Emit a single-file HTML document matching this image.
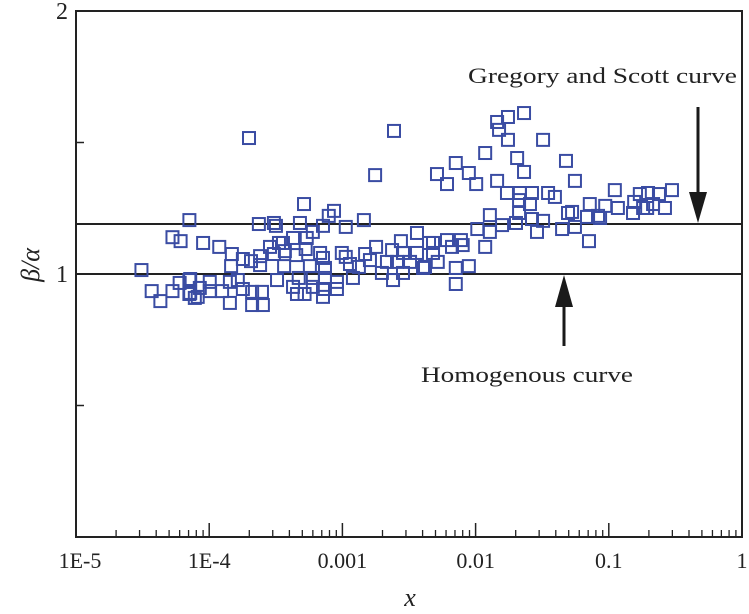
<!DOCTYPE html>
<html><head><meta charset="utf-8"><style>
html,body{margin:0;padding:0;background:#fff;}
svg{display:block;}
text{font-family:"Liberation Serif",serif;fill:#222;}
</style></head><body>
<svg id="chart" width="749" height="614" viewBox="0 0 749 614" xmlns="http://www.w3.org/2000/svg">
<g id="axes"></g>
<g id="marks"></g>
<g id="notes"></g>
</svg>
<script>
const xTickValues = [1e-5, 1e-4, 1e-3, 1e-2, 1e-1, 1];
const xTickLabels = ["1E-5", "1E-4", "0.001", "0.01", "0.1", "1"];
const yTickValues = [1, 2];
const yTickLabels = ["1", "2"];
const yMinorValues = [0.5, 1.5];
const gregoryValue = [1.19];
const homogenousValue = [1.0];
const xVals = [
5.3e-5,6.1e-5,3.1e-5,3.7e-5,4.3e-5,5.3e-5,6.0e-5,7.1e-5,7.1e-5,7.8e-5,
7.1e-5,9.0e-5,1.19e-4,1.48e-4,1.79e-4,2.06e-4,2.41e-4,2.41e-4,1.46e-4,2.36e-4,
3.06e-4,3.17e-4,2.86e-4,3.06e-4,3.34e-4,7.2e-5,7.2e-5,8.2e-5,8.5e-5,1.01e-4,
1.01e-4,1.25e-4,1.43e-4,1.43e-4,1.64e-4,1.79e-4,2.10e-4,2.49e-4,2.10e-4,2.53e-4,
3.23e-4,5.15e-4,8.65e-4,7.9e-4,1.45e-3,4.8e-4,7.15e-4,1.06e-3,6.0e-4,4.26e-4,
5.4e-4,3.58e-4,5.3e-4,3.7e-4,4.5e-4,6.8e-4,7.15e-4,9.9e-4,1.06e-3,1.48e-3,
1.79e-3,2.36e-3,2.75e-3,2.85e-3,3.63e-3,3.63e-3,4.47e-3,3.65e-4,5.7e-4,7.4e-4,
1.14e-3,1.33e-3,1.61e-3,2.16e-3,2.57e-3,3.22e-3,4.03e-3,4.7e-4,6.0e-4,7.4e-4,
9.1e-4,1.20e-3,1.98e-3,2.40e-3,2.85e-3,4.26e-4,6.0e-4,7.15e-4,9.1e-4,4.56e-4,
5.2e-4,7.15e-4,1.72e-2,2.15e-2,2.65e-2,3.50e-2,3.94e-2,2.12e-2,2.56e-2,1.28e-2,
2.12e-2,2.65e-2,3.21e-2,4.94e-2,2.01e-2,1.58e-2,1.28e-2,1.03e-2,2.89e-2,4.46e-2,
5.57e-2,4.79e-3,6.1e-3,6.65e-3,7.76e-3,8.0e-3,1.18e-2,4.79e-3,5.2e-3,4.17e-3,
7.1e-3,8.9e-3,7.1e-3,2.31e-2,1.75e-2,1.45e-2,1.50e-2,1.75e-2,3.21e-2,1.18e-2,
2.05e-2,2.31e-2,4.77e-2,5.57e-2,7.1e-3,5.13e-3,6.1e-3,8.9e-3,1.01e-2,1.45e-2,
0.111,7.2e-2,9.4e-2,0.117,0.155,0.171,0.197,0.238,0.298,0.215,
0.194,0.264,0.152,6.86e-2,8.3e-2,5.3e-2,7.1e-2,8.6e-2,0.181,1.99e-4,
2.44e-3,1.76e-3
];
const yVals = [
1.14,1.125,1.015,0.935,0.897,0.935,0.966,0.977,0.924,0.909,
1.205,1.118,1.103,1.076,1.057,1.049,1.068,1.034,1.030,1.190,
1.194,1.183,1.103,1.076,1.118,0.981,0.928,0.913,0.947,0.970,
0.935,0.935,0.970,0.890,0.977,0.943,0.932,0.932,0.882,0.882,
0.977,1.266,1.240,1.221,1.205,1.194,1.183,1.179,1.160,1.137,
1.137,1.118,1.095,1.087,1.072,1.080,1.061,1.080,1.065,1.076,
1.103,1.091,1.125,1.080,1.156,1.080,1.118,1.030,1.030,1.023,
1.038,1.027,1.053,1.046,1.046,1.046,1.023,0.985,0.985,0.985,
0.970,0.985,1.004,0.977,1.004,0.951,0.951,0.943,0.943,0.924,
0.924,0.913,1.308,1.308,1.308,1.308,1.293,1.281,1.266,1.224,
1.232,1.209,1.202,1.232,1.194,1.186,1.160,1.171,1.160,1.171,
1.179,1.118,1.129,1.103,1.129,1.110,1.103,1.080,1.046,1.027,
1.023,1.030,0.962,1.612,1.597,1.578,1.548,1.510,1.510,1.460,
1.441,1.388,1.430,1.354,1.422,1.380,1.342,1.384,1.342,1.354,
1.319,1.266,1.259,1.251,1.274,1.304,1.308,1.304,1.319,1.266,
1.251,1.251,1.232,1.217,1.221,1.236,1.125,1.213,1.251,1.517,
1.544,1.376
];

const NS = "http://www.w3.org/2000/svg";
const X0 = 76, X1 = 742, Y0 = 537, Y1 = 11;
const xMinLog = -5, xMaxLog = 0, yMin = 0, yMax = 2;
function xScale(v){ return X0 + (Math.log10(v) - xMinLog) / (xMaxLog - xMinLog) * (X1 - X0); }
function yScale(v){ return Y0 - (v - yMin) / (yMax - yMin) * (Y0 - Y1); }
function mk(tag, attrs, parent){
  const el = document.createElementNS(NS, tag);
  for (const k in attrs) el.setAttribute(k, attrs[k]);
  parent.appendChild(el);
  return el;
}
const axes = document.getElementById("axes");
const marks = document.getElementById("marks");
const notes = document.getElementById("notes");

// frame
const frame = mk("rect", {x:X0, y:Y1, width:X1-X0, height:Y0-Y1, fill:"none", stroke:"#222", "stroke-width":2}, axes);



// x ticks
for (let d = 0; d < xTickValues.length; d++) {
  const base = xTickValues[d];
  const px = xScale(base);
  if (d > 0 && d < xTickValues.length - 1) {
    const t = mk("line", {x1:px, x2:px, y1:Y0, y2:Y0-14, stroke:"#222", "stroke-width":1.5}, axes);
    
    
  }
  if (d < xTickValues.length - 1) {
    for (let m = 2; m <= 9; m++) {
      const mx = xScale(base * m);
      const t = mk("line", {x1:mx, x2:mx, y1:Y0, y2:Y0-7, stroke:"#222", "stroke-width":1.3}, axes);
      
      
    }
  }
  const lab = mk("text", {x:px + (d===0?4:0), y:568, "text-anchor":"middle", "font-size":22}, axes);
  lab.textContent = xTickLabels[d];
  
  
}
// y ticks
for (let i = 0; i < yMinorValues.length; i++) {
  const py = yScale(yMinorValues[i]);
  const t = mk("line", {x1:X0, x2:X0+8, y1:py, y2:py, stroke:"#222", "stroke-width":1.5}, axes);
  
  
}
for (let i = 0; i < yTickValues.length; i++) {
  const py = yScale(yTickValues[i]);
  const lab = mk("text", {x:68, y:py + 8, "text-anchor":"end", "font-size":24}, axes);
  lab.textContent = yTickLabels[i];
  
  
}
// axis titles
const xt = mk("text", {x:410, y:606, "text-anchor":"middle", "font-size":26, "font-style":"italic"}, axes);
xt.textContent = "x";


const yt = mk("text", {x:0, y:0, "text-anchor":"middle", "font-size":26, "font-style":"italic", transform:"translate(39,265) rotate(-90)"}, axes);
yt.textContent = "β/α";



// reference lines
const gl = mk("line", {x1:X0, x2:X1, y1:yScale(gregoryValue[0]), y2:yScale(gregoryValue[0]), stroke:"#222", "stroke-width":2}, axes);


const hl = mk("line", {x1:X0, x2:X1, y1:yScale(homogenousValue[0]), y2:yScale(homogenousValue[0]), stroke:"#222", "stroke-width":2}, axes);



// points
for (let i = 0; i < xVals.length; i++) {
  const cx = xScale(xVals[i]), cy = yScale(yVals[i]);
  const r = mk("rect", {x:cx-6, y:cy-6, width:12, height:12, fill:"none", stroke:"#3a4ca3", "stroke-width":2}, marks);
  
  
}

// annotations
const gy = yScale(gregoryValue[0]);
const ga = mk("line", {x1:698, x2:698, y1:107, y2:gy-20, stroke:"#1a1a1a", "stroke-width":3}, notes);


const gh = mk("polygon", {points:`689,${gy-32} 707,${gy-32} 698,${gy-1}`, fill:"#1a1a1a"}, notes);


const gtx = mk("text", {x:468, y:83, "font-size":22, textLength:269, lengthAdjust:"spacingAndGlyphs"}, notes);
gtx.textContent = "Gregory and Scott curve";



const hy = yScale(homogenousValue[0]);
const ha = mk("line", {x1:564, x2:564, y1:hy+20, y2:346, stroke:"#1a1a1a", "stroke-width":3}, notes);


const hh = mk("polygon", {points:`555,${hy+33} 573,${hy+33} 564,${hy+1}`, fill:"#1a1a1a"}, notes);


const htx = mk("text", {x:421, y:382, "font-size":22, textLength:212, lengthAdjust:"spacingAndGlyphs"}, notes);
htx.textContent = "Homogenous curve";


</script>
</body></html>
